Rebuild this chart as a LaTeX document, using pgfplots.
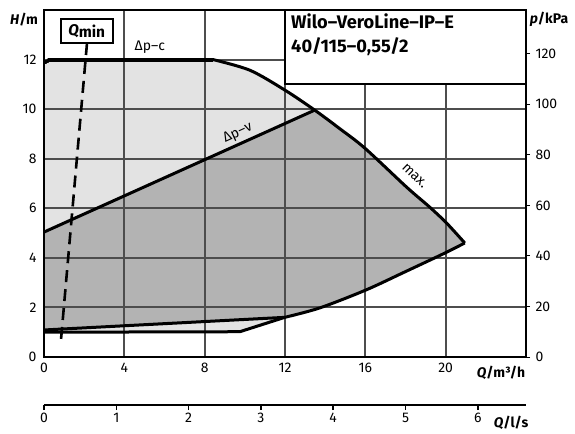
\documentclass[border=0pt]{standalone}
\usepackage{fontspec}
\setmainfont{Fira Sans}
\usepackage{pgfplots}
\pgfplotsset{compat=1.18}

\definecolor{lightarea}{HTML}{E3E3E3}
\definecolor{darkarea}{HTML}{B3B3B3}
\definecolor{gridgray}{HTML}{4D4D4D}
\newcommand\tfont{\fontsize{14}{14}\selectfont}

\begin{document}
\begin{tikzpicture}

% main H axis
\begin{axis}[name=ax,
  scale only axis, width=482bp, height=347bp,
  xmin=0, xmax=24, ymin=0, ymax=14,
  xtick={0,4,...,20}, ytick={0,2,...,12},
  /pgf/number format/assume math mode=true,
  tick label style={font=\tfont},
  major tick length=0.01pt,
  axis line style={line width=2bp},
  xticklabel style={yshift=-3bp},
  yticklabel style={xshift=-4bp},
]
% Delta p-c range (light)
\addplot[fill=lightarea, draw=none] coordinates {
(0,1.0) (0,11.88) (0.3,12) (8.41,12) (10.25,11.57) (11.99,10.77) (13.48,9.96)
(14.73,9.21) (15.97,8.43) (18.06,6.85) (19.2,6.05) (20.05,5.4) (20.95,4.6)
(19.95,4.19) (17.96,3.43) (16.02,2.7) (13.73,1.98) (11.99,1.6) (9.75,1.02)
} -- cycle;
% Delta p-v range (dark)
\addplot[fill=darkarea, draw=none] coordinates {
(0,1.09) (0,5.04) (13.48,9.96)
(14.73,9.21) (15.97,8.43) (18.06,6.85) (19.2,6.05) (20.05,5.4) (20.95,4.6)
(19.95,4.19) (17.96,3.43) (16.02,2.7) (13.73,1.98) (11.99,1.6)
} -- cycle;
% grid, snapped to whole pixels so that it shows
\foreach \gx in {3.983,8.017,12,15.983,20.017}
  \edef\tmp{\noexpand\draw[gridgray, line width=1.4bp] (axis cs:\gx,0) -- (axis cs:\gx,14);}\tmp
\foreach \gy in {2.017,3.994,6.012,7.988,10.006,11.983}
  \edef\tmp{\noexpand\draw[gridgray, line width=1.4bp] (axis cs:0,\gy) -- (axis cs:24,\gy);}\tmp
% outlines
\addplot[black, line width=3bp] coordinates {(0,11.88) (0.3,12) (8.41,12)};
\addplot[black, line width=3bp, smooth] coordinates {
(8.41,12) (10.25,11.57) (11.99,10.77) (13.48,9.96)
(14.73,9.21) (15.97,8.43) (18.06,6.85) (19.2,6.05) (20.05,5.4) (20.95,4.6)};
\addplot[black, line width=3bp, smooth] coordinates {
(20.95,4.6) (19.95,4.19) (17.96,3.43) (16.02,2.7) (13.73,1.98) (11.99,1.6)};
\addplot[black, line width=3bp] coordinates {(11.99,1.6) (9.75,1.02) (0,1.0)};
\addplot[black, line width=3bp] coordinates {(0,5.04) (13.48,9.96)};
\addplot[black, line width=3bp] coordinates {(0,1.09) (11.99,1.6)};
% Qmin
\addplot[black, line width=2.6bp, dash pattern=on 12bp off 7bp] coordinates {(0.85,0.73) (2.14,12.65)};

\node[font=\tfont] at (axis cs:5.27,12.5) {Δp–c};
\node[font=\tfont, rotate=24.6] at (axis cs:9.65,9.03) {Δp–v};
\node[font=\tfont, rotate=-44] at (axis cs:18.45,7.3) {max.};
\end{axis}

% p/kPa axis
\begin{axis}[
  scale only axis, width=482bp, height=347bp,
  xmin=0, xmax=24, ymin=0, ymax=137.34,
  hide x axis, axis y line*=right,
  ytick={0,20,...,120},
  /pgf/number format/assume math mode=true,
  tick label style={font=\tfont},
  tick align=outside, major tick length=4bp,
  tick style={line width=1bp, black},
  axis line style={line width=2bp},
  yticklabel style={xshift=2bp},
]
\end{axis}

% Q in l/s axis
\begin{axis}[
  scale only axis, width=482bp, height=10bp,
  at={(ax.south west)}, yshift=-48bp, anchor=south west,
  xmin=0, xmax=6.6667, ymin=0, ymax=1,
  hide y axis, axis x line*=bottom,
  xtick={0,1,...,6},
  /pgf/number format/assume math mode=true,
  tick label style={font=\tfont},
  tick align=outside, major tick length=5bp,
  tick style={line width=1.5bp, black},
  axis line style={line width=2bp},
]
\end{axis}

\begin{scope}[shift={(ax.south west)}, xshift=-44bp, yshift=357bp, x=1bp, y=-1bp]
\draw[line width=2bp] (44,357) rectangle (526,10);
\node[font=\fontsize{14}{14}\selectfont\bfseries] at (24,20) {\textit{H}/m};
\node[font=\fontsize{14}{14}\selectfont\bfseries] at (549,19) {\textit{p}/kPa};
\node[font=\fontsize{14}{14}\selectfont\bfseries] at (501,373) {\textit{Q}/m³/h};
\node[font=\fontsize{14}{14}\selectfont\bfseries] at (511,423) {\textit{Q}/l/s};
\node[draw, line width=2bp, fill=white, minimum width=52bp, minimum height=24bp,
  inner sep=0pt, font=\fontsize{15.5}{15.5}\selectfont\bfseries] at (86.7,31.2)
  {\textit{Q}\raisebox{-1.5bp}{min}};
\draw[line width=2bp, fill=white] (285,10) rectangle (526,84);
\node[anchor=base west, inner sep=0pt, font=\fontsize{18.3}{18.3}\selectfont\bfseries] at (291,29) {Wilo–VeroLine–IP–E};
\node[anchor=base west, inner sep=0pt, font=\fontsize{18.3}{18.3}\selectfont\bfseries] at (291,53) {40/115–0,55/2};
\pgfresetboundingbox
\path[use as bounding box] (0,0) rectangle (575,434);
\end{scope}
\end{tikzpicture}
\end{document}
